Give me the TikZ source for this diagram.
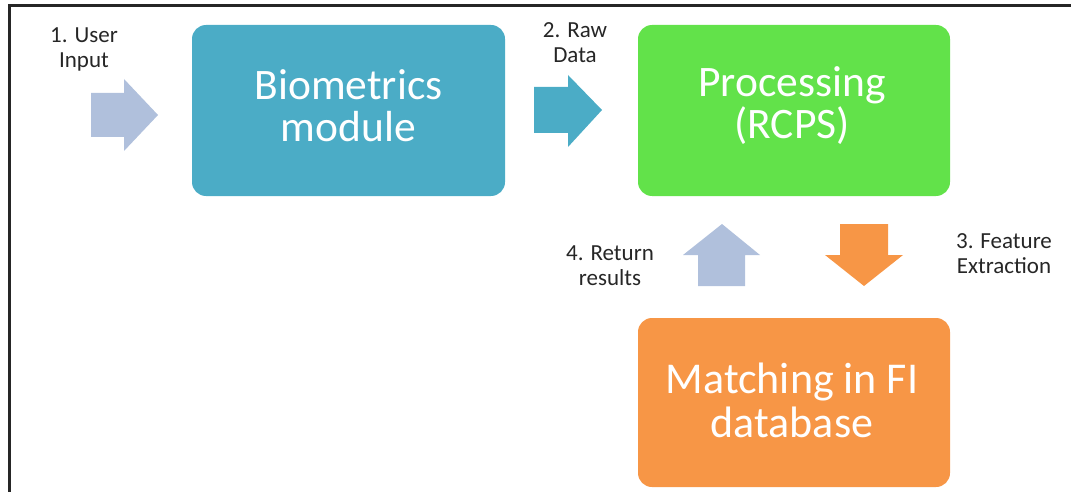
\documentclass[tikz,border=0pt]{standalone}
\usepackage{fontspec}
\setmainfont{Carlito}
\definecolor{bioblue}{HTML}{4BACC6}
\definecolor{procgreen}{HTML}{62E24A}
\definecolor{matchorange}{HTML}{F79646}
\definecolor{paleblue}{HTML}{B0C0DC}
\definecolor{labelgray}{HTML}{262626}
\tikzset{
  stage/.style={inner sep=0pt, text=white, align=center,
    font=\fontsize{43.5}{42}\selectfont},
  steplabel/.style={align=center, text=labelgray, font=\fontsize{23}{25}\selectfont, inner sep=0pt}
}
\begin{document}
\begin{tikzpicture}[x=1pt,y=-1pt]
  \useasboundingbox (0,0) rectangle (1071,492);
  % frame edges
  \draw[line width=2.5pt, black!85] (9.5,492) -- (9.5,5.5) -- (1071,5.5);

  % stage boxes
  \fill[bioblue, rounded corners=14pt] (192,25) rectangle (505,196);
  \node[stage] (bio) at (348.5,106) {Biometrics\\module};
  \fill[procgreen, rounded corners=14pt] (638,25) rectangle (950,196);
  \node[stage] (proc) at (792,106) {Processing\\(RCPS)};
  \fill[matchorange, rounded corners=14pt] (638,318) rectangle (950,487);
  \node[stage, font=\fontsize{44}{44}\selectfont] (match) at (792,400) {Matching in FI\\database};

  % block arrows
  \fill[paleblue] (91,93) -- (124,93) -- (124,79) -- (158,115) -- (124,151) -- (124,137) -- (91,137) -- cycle;
  \fill[bioblue] (534,87) -- (568,87) -- (568,75) -- (602,110) -- (568,147) -- (568,133) -- (534,133) -- cycle;
  \fill[paleblue] (698,286) -- (698,255) -- (683,255) -- (722,224) -- (760,255) -- (745,255) -- (745,286) -- cycle;
  \fill[matchorange] (840,224) -- (888,224) -- (888,255) -- (903,255) -- (864,286) -- (825,255) -- (840,255) -- cycle;

  % step labels
  \node[steplabel] (l1) at (84,49) {1. User\\Input};
  \node[steplabel] (l2) at (575,43) {2. Raw\\Data};
  \node[steplabel] (l4) at (610,266) {4. Return\\results};
  \node[steplabel] (l3) at (1004,254) {3. Feature\\Extraction};
\end{tikzpicture}
\end{document}
